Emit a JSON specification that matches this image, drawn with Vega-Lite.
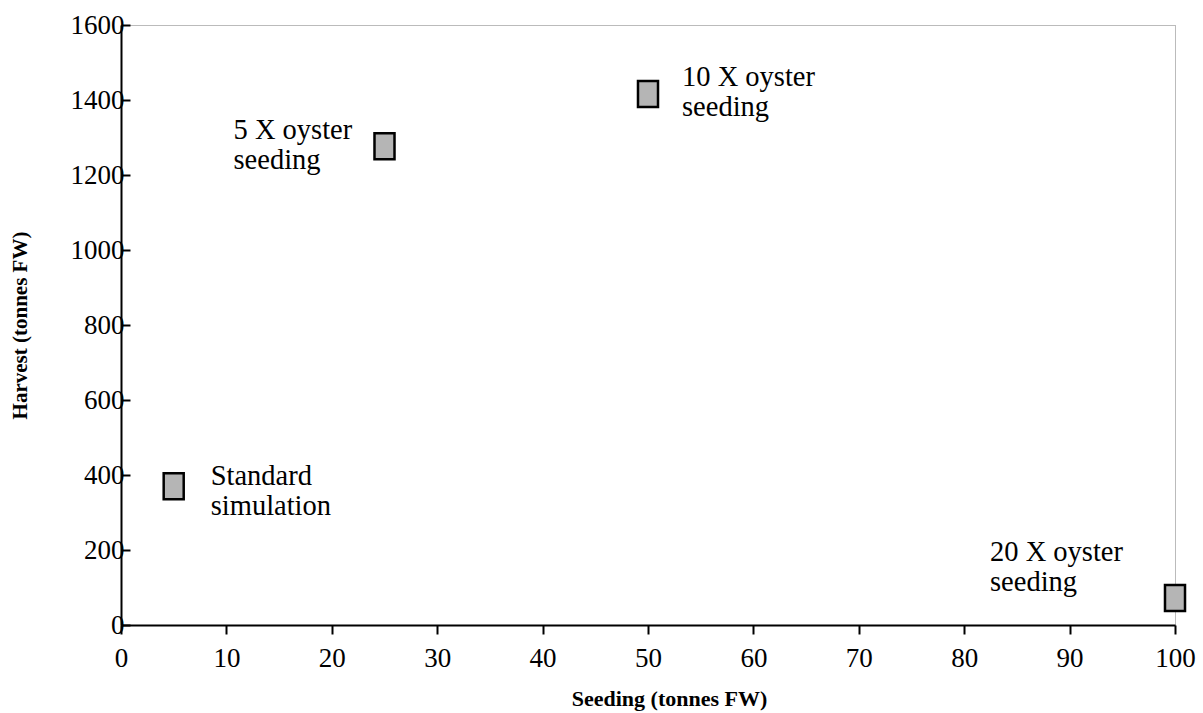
{
  "$schema": "https://vega.github.io/schema/vega-lite/v6.json",
  "width": 1054,
  "height": 600,
  "autosize": {"type": "none"},
  "padding": {"left": 121, "top": 25, "right": 28, "bottom": 88},
  "background": "white",
  "config": {
    "view": {"stroke": "#777777", "strokeDash": [1, 1], "strokeWidth": 1},
    "font": "Liberation Serif",
    "text": {"font": "Liberation Serif", "lineBreak": "\n"}
  },
  "data": {
    "values": [
      {"scenario": "Standard", "seeding": 5, "harvest": 370, "label": "Standard\nsimulation"},
      {"scenario": "5X", "seeding": 25, "harvest": 1277, "label": "5 X oyster\nseeding"},
      {"scenario": "10X", "seeding": 50, "harvest": 1416, "label": "10 X oyster\nseeding"},
      {"scenario": "20X", "seeding": 100, "harvest": 72, "label": "20 X oyster\nseeding"}
    ]
  },
  "encoding": {
    "x": {
      "field": "seeding", "type": "quantitative",
      "scale": {"domain": [0, 100], "nice": false, "zero": false},
      "axis": {
        "title": "Seeding (tonnes FW)", "values": [0, 10, 20, 30, 40, 50, 60, 70, 80, 90, 100],
        "format": "d",
        "grid": false, "labelFlush": false, "labelOverlap": false,
        "labelFont": "Liberation Serif", "labelFontSize": 27, "labelColor": "black", "labelPadding": 11,
        "tickSize": 9, "tickWidth": 2, "tickColor": "black",
        "domainColor": "black", "domainWidth": 2,
        "titleFont": "Liberation Serif", "titleFontSize": 22, "titleFontWeight": "bold", "titleColor": "black",
        "titlePadding": 17, "titleX": 548
      }
    },
    "y": {
      "field": "harvest", "type": "quantitative",
      "scale": {"domain": [0, 1600], "nice": false, "zero": true},
      "axis": {
        "title": "Harvest (tonnes FW)", "values": [0, 200, 400, 600, 800, 1000, 1200, 1400, 1600],
        "format": "d",
        "grid": false, "labelFlush": false, "labelOverlap": false,
        "labelFont": "Liberation Serif", "labelFontSize": 27, "labelColor": "black", "labelPadding": 6,
        "tickSize": -9, "tickWidth": 2, "tickColor": "black",
        "domainColor": "black", "domainWidth": 2,
        "titleFont": "Liberation Serif", "titleFontSize": 21, "titleFontWeight": "bold", "titleColor": "black",
        "titlePadding": 40
      }
    }
  },
  "layer": [
    {
      "mark": {"type": "point", "shape": "M-0.77,-1L0.77,-1L0.77,1L-0.77,1Z", "size": 676, "filled": true, "fill": "#b5b5b5", "stroke": "black", "strokeWidth": 2.5, "opacity": 1}
    },
    {
      "transform": [{"filter": "datum.scenario === 'Standard'"}],
      "mark": {"type": "text", "font": "Liberation Serif", "align": "left", "baseline": "top", "fontSize": 28.5, "lineHeight": 30, "dx": 37, "dy": -24, "color": "black"},
      "encoding": {"text": {"field": "label"}}
    },
    {
      "transform": [{"filter": "datum.scenario === '5X'"}],
      "mark": {"type": "text", "font": "Liberation Serif", "align": "left", "baseline": "top", "fontSize": 28.5, "lineHeight": 30, "dx": -151, "dy": -30, "color": "black"},
      "encoding": {"text": {"field": "label"}}
    },
    {
      "transform": [{"filter": "datum.scenario === '10X'"}],
      "mark": {"type": "text", "font": "Liberation Serif", "align": "left", "baseline": "top", "fontSize": 28.5, "lineHeight": 30, "dx": 34, "dy": -31, "color": "black"},
      "encoding": {"text": {"field": "label"}}
    },
    {
      "transform": [{"filter": "datum.scenario === '20X'"}],
      "mark": {"type": "text", "font": "Liberation Serif", "align": "left", "baseline": "top", "fontSize": 28.5, "lineHeight": 30, "dx": -185, "dy": -60, "color": "black"},
      "encoding": {"text": {"field": "label"}}
    }
  ]
}
